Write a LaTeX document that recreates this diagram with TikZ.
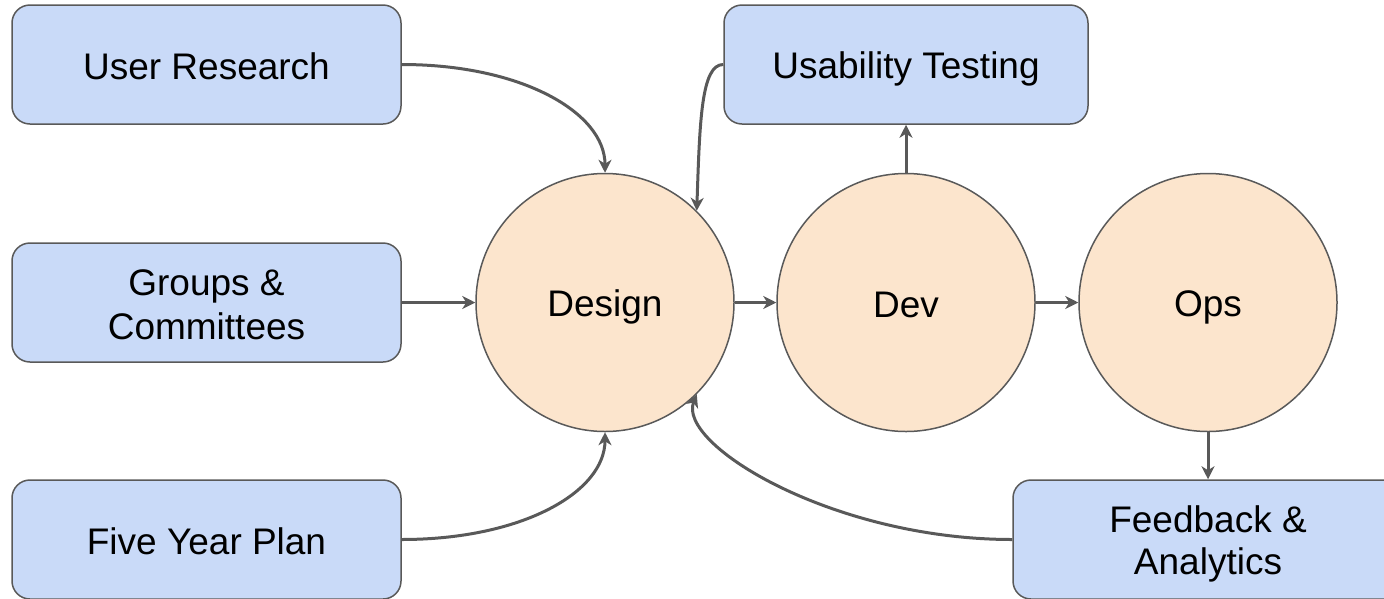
\documentclass[tikz,border=0pt]{standalone}
\usepackage{fontspec}
\setmainfont{Liberation Sans}
\usetikzlibrary{arrows.meta}
\definecolor{boxfill}{HTML}{C9DAF8}
\definecolor{circfill}{HTML}{FCE5CD}
\definecolor{edge}{HTML}{595959}
\newcommand\mystrut{\rule[-0.16em]{0pt}{1.117em}}
\begin{document}
\begin{tikzpicture}[x=1pt,y=-1pt,
  box/.style={draw=edge, line width=1.5pt, fill=boxfill, rounded corners=18pt,
    minimum height=119pt, inner sep=0pt, align=center,
    font=\fontsize{37}{42}\selectfont, text=black},
  stage/.style={draw=edge, line width=1.5pt, fill=circfill, circle,
    minimum size=258pt, inner sep=0pt, font=\fontsize{37}{42}\selectfont, text=black},
  conn/.style={draw=edge, line width=3pt,
    -{Stealth[length=13pt,width=13pt,inset=4pt]}}]
\useasboundingbox (0,0) rectangle (1384,598);
\node[box, minimum width=389pt] (ur) at (206.5,64.5) {\mystrut User Research};
\node[box, minimum width=389pt] (gc) at (206.5,302.5) {\mystrut Groups \&\\\mystrut Committees};
\node[box, minimum width=389pt] (fy) at (206.5,539.5) {\mystrut Five Year Plan};
\node[box, minimum width=364pt] (ut) at (906,64.5) {\mystrut Usability Testing};
\node[box, minimum width=390pt] (fa) at (1208,539.5) {\mystrut Feedback \&\\\mystrut Analytics};
\node[stage] (design) at (605,302.5) {\mystrut Design};
\node[stage] (dev) at (906,302.5) {\mystrut Dev};
\node[stage] (ops) at (1208,302.5) {\mystrut Ops};
\draw[conn] (ur.east) .. controls +(120,0) and +(0,-60) .. (design.north);
\draw[conn] (fy.east) .. controls +(120,0) and +(0,60) .. (design.south);
\draw[conn] (gc.east) -- (design.west);
\draw[conn] (design.east) -- (dev.west);
\draw[conn] (dev.east) -- (ops.west);
\draw[conn] (dev.north) -- (ut.south);
\draw[conn] (ops.south) -- (fa.north);
\draw[conn] (ut.west) .. controls +(-22,0) and +(3,-90) .. (design.45);
\draw[conn] (fa.west) .. controls +(-180,0) and +(-20,50) .. (design.-45);
\end{tikzpicture}
\end{document}
